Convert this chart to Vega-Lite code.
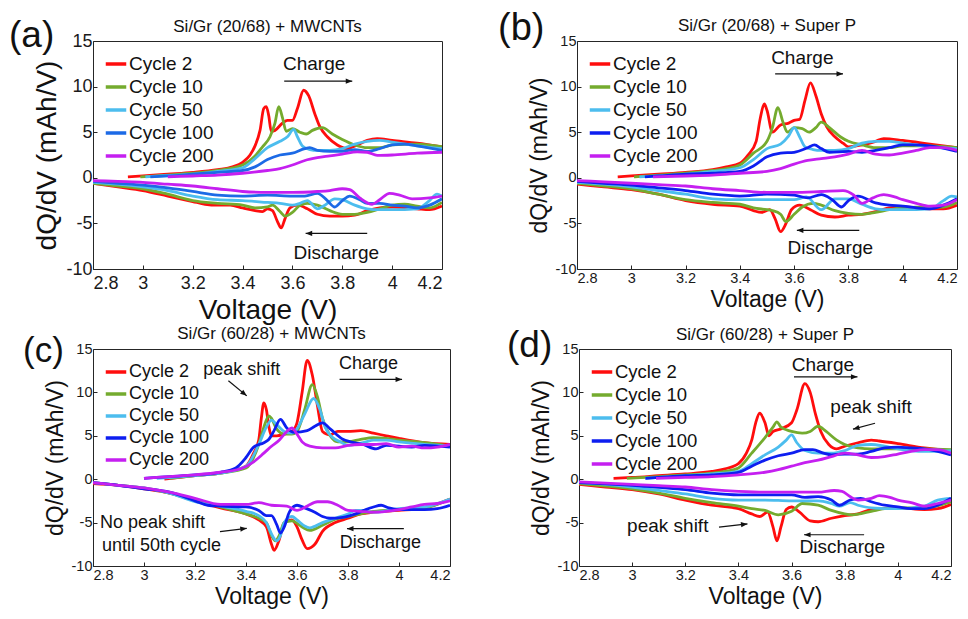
{
"$schema":"https://vega.github.io/schema/vega-lite/v6.json",
"background":"white",
"padding":{"left":8,"top":9,"right":2,"bottom":2},
"config":{
 "font":"Liberation Sans",
 "view":{"stroke":"#262626","strokeWidth":1},
 "axis":{"grid":false,"domain":false,"ticks":true,"tickSize":-4,"tickColor":"#262626","tickWidth":1,"labelColor":"#1a1a1a","titleColor":"#111","titleFontWeight":"normal","labelFontSize":14.5,"titleFontSize":23,"labelPadding":5},
 "axisX":{"labelPadding":6},
 "legend":{"orient":"top-left","offset":11,"padding":0,"labelFontSize":19,"labelColor":"#111","symbolType":"stroke","symbolStrokeWidth":3.5,"symbolSize":420,"rowPadding":1,"labelOffset":1,"labelLimit":200},
 "text":{"color":"#111"}
},
"datasets":{
"pa":[
{"cycle":2,"dir":"ch","v":2.94,"q":0.1},{"cycle":2,"dir":"ch","v":3.0,"q":0.2},{"cycle":2,"dir":"ch","v":3.1,"q":0.4},{"cycle":2,"dir":"ch","v":3.2,"q":0.6},{"cycle":2,"dir":"ch","v":3.3,"q":0.9},{"cycle":2,"dir":"ch","v":3.36,"q":1.2},{"cycle":2,"dir":"ch","v":3.4,"q":1.7},{"cycle":2,"dir":"ch","v":3.43,"q":2.5},{"cycle":2,"dir":"ch","v":3.45,"q":3.5},{"cycle":2,"dir":"ch","v":3.47,"q":5.2},{"cycle":2,"dir":"ch","v":3.485,"q":7.6},{"cycle":2,"dir":"ch","v":3.495,"q":7.8},{"cycle":2,"dir":"ch","v":3.505,"q":6.8},{"cycle":2,"dir":"ch","v":3.515,"q":5.1},{"cycle":2,"dir":"ch","v":3.53,"q":5.2},{"cycle":2,"dir":"ch","v":3.56,"q":6.0},{"cycle":2,"dir":"ch","v":3.58,"q":6.3},{"cycle":2,"dir":"ch","v":3.6,"q":6.3},{"cycle":2,"dir":"ch","v":3.62,"q":7.6},{"cycle":2,"dir":"ch","v":3.645,"q":9.6},{"cycle":2,"dir":"ch","v":3.665,"q":9.0},{"cycle":2,"dir":"ch","v":3.69,"q":7.0},{"cycle":2,"dir":"ch","v":3.71,"q":5.6},{"cycle":2,"dir":"ch","v":3.74,"q":4.5},{"cycle":2,"dir":"ch","v":3.78,"q":3.6},{"cycle":2,"dir":"ch","v":3.82,"q":3.2},{"cycle":2,"dir":"ch","v":3.86,"q":3.6},{"cycle":2,"dir":"ch","v":3.9,"q":4.1},{"cycle":2,"dir":"ch","v":3.94,"q":4.3},{"cycle":2,"dir":"ch","v":4.0,"q":4.1},{"cycle":2,"dir":"ch","v":4.1,"q":3.8},{"cycle":2,"dir":"ch","v":4.2,"q":3.4},
{"cycle":10,"dir":"ch","v":2.99,"q":0.1},{"cycle":10,"dir":"ch","v":3.1,"q":0.3},{"cycle":10,"dir":"ch","v":3.2,"q":0.5},{"cycle":10,"dir":"ch","v":3.3,"q":0.8},{"cycle":10,"dir":"ch","v":3.4,"q":1.4},{"cycle":10,"dir":"ch","v":3.45,"q":2.4},{"cycle":10,"dir":"ch","v":3.48,"q":3.4},{"cycle":10,"dir":"ch","v":3.51,"q":4.5},{"cycle":10,"dir":"ch","v":3.53,"q":6.0},{"cycle":10,"dir":"ch","v":3.545,"q":7.8},{"cycle":10,"dir":"ch","v":3.56,"q":6.6},{"cycle":10,"dir":"ch","v":3.575,"q":5.1},{"cycle":10,"dir":"ch","v":3.6,"q":5.4},{"cycle":10,"dir":"ch","v":3.63,"q":5.0},{"cycle":10,"dir":"ch","v":3.655,"q":4.8},{"cycle":10,"dir":"ch","v":3.68,"q":5.2},{"cycle":10,"dir":"ch","v":3.72,"q":5.5},{"cycle":10,"dir":"ch","v":3.76,"q":4.8},{"cycle":10,"dir":"ch","v":3.8,"q":4.2},{"cycle":10,"dir":"ch","v":3.85,"q":3.6},{"cycle":10,"dir":"ch","v":3.9,"q":3.3},{"cycle":10,"dir":"ch","v":3.95,"q":3.3},{"cycle":10,"dir":"ch","v":4.0,"q":3.6},{"cycle":10,"dir":"ch","v":4.1,"q":3.7},{"cycle":10,"dir":"ch","v":4.2,"q":3.4},
{"cycle":50,"dir":"ch","v":3.01,"q":0.1},{"cycle":50,"dir":"ch","v":3.1,"q":0.25},{"cycle":50,"dir":"ch","v":3.2,"q":0.4},{"cycle":50,"dir":"ch","v":3.3,"q":0.7},{"cycle":50,"dir":"ch","v":3.4,"q":1.1},{"cycle":50,"dir":"ch","v":3.45,"q":2.1},{"cycle":50,"dir":"ch","v":3.5,"q":3.3},{"cycle":50,"dir":"ch","v":3.55,"q":4.0},{"cycle":50,"dir":"ch","v":3.58,"q":4.5},{"cycle":50,"dir":"ch","v":3.605,"q":5.3},{"cycle":50,"dir":"ch","v":3.62,"q":4.5},{"cycle":50,"dir":"ch","v":3.64,"q":3.5},{"cycle":50,"dir":"ch","v":3.67,"q":3.1},{"cycle":50,"dir":"ch","v":3.7,"q":3.0},{"cycle":50,"dir":"ch","v":3.75,"q":3.0},{"cycle":50,"dir":"ch","v":3.8,"q":3.2},{"cycle":50,"dir":"ch","v":3.85,"q":3.7},{"cycle":50,"dir":"ch","v":3.9,"q":4.0},{"cycle":50,"dir":"ch","v":3.95,"q":4.1},{"cycle":50,"dir":"ch","v":4.0,"q":3.9},{"cycle":50,"dir":"ch","v":4.1,"q":3.5},{"cycle":50,"dir":"ch","v":4.2,"q":3.2},
{"cycle":100,"dir":"ch","v":3.03,"q":0.1},{"cycle":100,"dir":"ch","v":3.1,"q":0.2},{"cycle":100,"dir":"ch","v":3.2,"q":0.4},{"cycle":100,"dir":"ch","v":3.3,"q":0.6},{"cycle":100,"dir":"ch","v":3.4,"q":0.8},{"cycle":100,"dir":"ch","v":3.45,"q":1.2},{"cycle":100,"dir":"ch","v":3.5,"q":2.0},{"cycle":100,"dir":"ch","v":3.55,"q":2.5},{"cycle":100,"dir":"ch","v":3.6,"q":2.7},{"cycle":100,"dir":"ch","v":3.65,"q":3.2},{"cycle":100,"dir":"ch","v":3.67,"q":3.3},{"cycle":100,"dir":"ch","v":3.7,"q":3.0},{"cycle":100,"dir":"ch","v":3.75,"q":2.9},{"cycle":100,"dir":"ch","v":3.8,"q":2.9},{"cycle":100,"dir":"ch","v":3.85,"q":3.1},{"cycle":100,"dir":"ch","v":3.9,"q":2.9},{"cycle":100,"dir":"ch","v":3.95,"q":3.2},{"cycle":100,"dir":"ch","v":4.0,"q":3.6},{"cycle":100,"dir":"ch","v":4.05,"q":3.7},{"cycle":100,"dir":"ch","v":4.1,"q":3.5},{"cycle":100,"dir":"ch","v":4.2,"q":3.0},
{"cycle":200,"dir":"ch","v":3.1,"q":0.1},{"cycle":200,"dir":"ch","v":3.2,"q":0.2},{"cycle":200,"dir":"ch","v":3.3,"q":0.3},{"cycle":200,"dir":"ch","v":3.4,"q":0.5},{"cycle":200,"dir":"ch","v":3.5,"q":0.8},{"cycle":200,"dir":"ch","v":3.55,"q":1.0},{"cycle":200,"dir":"ch","v":3.6,"q":1.4},{"cycle":200,"dir":"ch","v":3.65,"q":1.9},{"cycle":200,"dir":"ch","v":3.7,"q":2.2},{"cycle":200,"dir":"ch","v":3.75,"q":2.4},{"cycle":200,"dir":"ch","v":3.8,"q":2.6},{"cycle":200,"dir":"ch","v":3.86,"q":2.85},{"cycle":200,"dir":"ch","v":3.9,"q":2.8},{"cycle":200,"dir":"ch","v":3.94,"q":2.45},{"cycle":200,"dir":"ch","v":4.0,"q":2.5},{"cycle":200,"dir":"ch","v":4.1,"q":2.7},{"cycle":200,"dir":"ch","v":4.2,"q":2.8},
{"cycle":2,"dir":"dis","v":2.8,"q":-0.6},{"cycle":2,"dir":"dis","v":2.9,"q":-1.0},{"cycle":2,"dir":"dis","v":3.0,"q":-1.4},{"cycle":2,"dir":"dis","v":3.1,"q":-2.0},{"cycle":2,"dir":"dis","v":3.2,"q":-2.6},{"cycle":2,"dir":"dis","v":3.25,"q":-2.9},{"cycle":2,"dir":"dis","v":3.3,"q":-3.0},{"cycle":2,"dir":"dis","v":3.35,"q":-3.0},{"cycle":2,"dir":"dis","v":3.4,"q":-3.3},{"cycle":2,"dir":"dis","v":3.45,"q":-3.6},{"cycle":2,"dir":"dis","v":3.48,"q":-3.7},{"cycle":2,"dir":"dis","v":3.5,"q":-3.4},{"cycle":2,"dir":"dis","v":3.52,"q":-3.6},{"cycle":2,"dir":"dis","v":3.54,"q":-4.8},{"cycle":2,"dir":"dis","v":3.555,"q":-5.5},{"cycle":2,"dir":"dis","v":3.57,"q":-4.5},{"cycle":2,"dir":"dis","v":3.59,"q":-3.3},{"cycle":2,"dir":"dis","v":3.62,"q":-3.0},{"cycle":2,"dir":"dis","v":3.66,"q":-3.4},{"cycle":2,"dir":"dis","v":3.7,"q":-4.0},{"cycle":2,"dir":"dis","v":3.75,"q":-4.2},{"cycle":2,"dir":"dis","v":3.8,"q":-4.2},{"cycle":2,"dir":"dis","v":3.85,"q":-4.1},{"cycle":2,"dir":"dis","v":3.9,"q":-3.6},{"cycle":2,"dir":"dis","v":3.95,"q":-3.3},{"cycle":2,"dir":"dis","v":4.0,"q":-3.2},{"cycle":2,"dir":"dis","v":4.1,"q":-3.4},{"cycle":2,"dir":"dis","v":4.15,"q":-3.5},{"cycle":2,"dir":"dis","v":4.2,"q":-3.1},
{"cycle":10,"dir":"dis","v":2.8,"q":-0.6},{"cycle":10,"dir":"dis","v":2.9,"q":-0.9},{"cycle":10,"dir":"dis","v":3.0,"q":-1.2},{"cycle":10,"dir":"dis","v":3.1,"q":-1.8},{"cycle":10,"dir":"dis","v":3.2,"q":-2.5},{"cycle":10,"dir":"dis","v":3.3,"q":-2.8},{"cycle":10,"dir":"dis","v":3.4,"q":-3.0},{"cycle":10,"dir":"dis","v":3.45,"q":-3.3},{"cycle":10,"dir":"dis","v":3.5,"q":-3.2},{"cycle":10,"dir":"dis","v":3.52,"q":-3.0},{"cycle":10,"dir":"dis","v":3.55,"q":-3.7},{"cycle":10,"dir":"dis","v":3.57,"q":-4.2},{"cycle":10,"dir":"dis","v":3.6,"q":-3.8},{"cycle":10,"dir":"dis","v":3.63,"q":-3.0},{"cycle":10,"dir":"dis","v":3.66,"q":-2.8},{"cycle":10,"dir":"dis","v":3.7,"q":-3.0},{"cycle":10,"dir":"dis","v":3.75,"q":-3.6},{"cycle":10,"dir":"dis","v":3.8,"q":-4.0},{"cycle":10,"dir":"dis","v":3.85,"q":-4.0},{"cycle":10,"dir":"dis","v":3.9,"q":-3.8},{"cycle":10,"dir":"dis","v":3.95,"q":-3.4},{"cycle":10,"dir":"dis","v":4.0,"q":-3.0},{"cycle":10,"dir":"dis","v":4.05,"q":-2.9},{"cycle":10,"dir":"dis","v":4.1,"q":-3.1},{"cycle":10,"dir":"dis","v":4.15,"q":-3.3},{"cycle":10,"dir":"dis","v":4.2,"q":-2.7},
{"cycle":50,"dir":"dis","v":2.8,"q":-0.5},{"cycle":50,"dir":"dis","v":2.9,"q":-0.7},{"cycle":50,"dir":"dis","v":3.0,"q":-1.0},{"cycle":50,"dir":"dis","v":3.1,"q":-1.4},{"cycle":50,"dir":"dis","v":3.2,"q":-2.0},{"cycle":50,"dir":"dis","v":3.3,"q":-2.4},{"cycle":50,"dir":"dis","v":3.4,"q":-2.5},{"cycle":50,"dir":"dis","v":3.5,"q":-2.7},{"cycle":50,"dir":"dis","v":3.55,"q":-2.8},{"cycle":50,"dir":"dis","v":3.6,"q":-3.0},{"cycle":50,"dir":"dis","v":3.63,"q":-2.8},{"cycle":50,"dir":"dis","v":3.66,"q":-2.5},{"cycle":50,"dir":"dis","v":3.7,"q":-3.4},{"cycle":50,"dir":"dis","v":3.73,"q":-3.0},{"cycle":50,"dir":"dis","v":3.77,"q":-2.3},{"cycle":50,"dir":"dis","v":3.8,"q":-2.4},{"cycle":50,"dir":"dis","v":3.85,"q":-3.0},{"cycle":50,"dir":"dis","v":3.9,"q":-3.4},{"cycle":50,"dir":"dis","v":3.95,"q":-3.5},{"cycle":50,"dir":"dis","v":4.0,"q":-3.5},{"cycle":50,"dir":"dis","v":4.1,"q":-3.4},{"cycle":50,"dir":"dis","v":4.15,"q":-2.5},{"cycle":50,"dir":"dis","v":4.18,"q":-1.8},{"cycle":50,"dir":"dis","v":4.2,"q":-2.0},
{"cycle":100,"dir":"dis","v":2.8,"q":-0.4},{"cycle":100,"dir":"dis","v":2.9,"q":-0.6},{"cycle":100,"dir":"dis","v":3.0,"q":-0.8},{"cycle":100,"dir":"dis","v":3.1,"q":-1.1},{"cycle":100,"dir":"dis","v":3.2,"q":-1.5},{"cycle":100,"dir":"dis","v":3.3,"q":-1.9},{"cycle":100,"dir":"dis","v":3.4,"q":-2.0},{"cycle":100,"dir":"dis","v":3.5,"q":-1.9},{"cycle":100,"dir":"dis","v":3.6,"q":-2.0},{"cycle":100,"dir":"dis","v":3.65,"q":-2.0},{"cycle":100,"dir":"dis","v":3.7,"q":-1.7},{"cycle":100,"dir":"dis","v":3.74,"q":-2.5},{"cycle":100,"dir":"dis","v":3.77,"q":-3.2},{"cycle":100,"dir":"dis","v":3.8,"q":-2.5},{"cycle":100,"dir":"dis","v":3.83,"q":-2.0},{"cycle":100,"dir":"dis","v":3.87,"q":-2.4},{"cycle":100,"dir":"dis","v":3.9,"q":-2.8},{"cycle":100,"dir":"dis","v":3.95,"q":-2.8},{"cycle":100,"dir":"dis","v":4.0,"q":-3.0},{"cycle":100,"dir":"dis","v":4.05,"q":-3.1},{"cycle":100,"dir":"dis","v":4.1,"q":-3.3},{"cycle":100,"dir":"dis","v":4.15,"q":-3.0},{"cycle":100,"dir":"dis","v":4.2,"q":-2.3},
{"cycle":200,"dir":"dis","v":2.8,"q":-0.3},{"cycle":200,"dir":"dis","v":2.9,"q":-0.4},{"cycle":200,"dir":"dis","v":3.0,"q":-0.5},{"cycle":200,"dir":"dis","v":3.1,"q":-0.7},{"cycle":200,"dir":"dis","v":3.2,"q":-0.9},{"cycle":200,"dir":"dis","v":3.3,"q":-1.2},{"cycle":200,"dir":"dis","v":3.4,"q":-1.5},{"cycle":200,"dir":"dis","v":3.5,"q":-1.6},{"cycle":200,"dir":"dis","v":3.6,"q":-1.6},{"cycle":200,"dir":"dis","v":3.7,"q":-1.5},{"cycle":200,"dir":"dis","v":3.75,"q":-1.4},{"cycle":200,"dir":"dis","v":3.8,"q":-1.2},{"cycle":200,"dir":"dis","v":3.83,"q":-1.3},{"cycle":200,"dir":"dis","v":3.87,"q":-2.2},{"cycle":200,"dir":"dis","v":3.92,"q":-2.9},{"cycle":200,"dir":"dis","v":3.95,"q":-2.4},{"cycle":200,"dir":"dis","v":3.99,"q":-1.7},{"cycle":200,"dir":"dis","v":4.03,"q":-1.9},{"cycle":200,"dir":"dis","v":4.08,"q":-2.3},{"cycle":200,"dir":"dis","v":4.15,"q":-2.2},{"cycle":200,"dir":"dis","v":4.2,"q":-2.0}
],
"pb":[
{"cycle":2,"dir":"ch","v":2.95,"q":0.1},{"cycle":2,"dir":"ch","v":3.0,"q":0.2},{"cycle":2,"dir":"ch","v":3.1,"q":0.4},{"cycle":2,"dir":"ch","v":3.2,"q":0.6},{"cycle":2,"dir":"ch","v":3.3,"q":0.9},{"cycle":2,"dir":"ch","v":3.35,"q":1.2},{"cycle":2,"dir":"ch","v":3.4,"q":1.6},{"cycle":2,"dir":"ch","v":3.43,"q":2.5},{"cycle":2,"dir":"ch","v":3.46,"q":4.0},{"cycle":2,"dir":"ch","v":3.475,"q":6.5},{"cycle":2,"dir":"ch","v":3.49,"q":8.1},{"cycle":2,"dir":"ch","v":3.5,"q":7.4},{"cycle":2,"dir":"ch","v":3.52,"q":5.0},{"cycle":2,"dir":"ch","v":3.55,"q":5.8},{"cycle":2,"dir":"ch","v":3.58,"q":6.0},{"cycle":2,"dir":"ch","v":3.6,"q":6.3},{"cycle":2,"dir":"ch","v":3.62,"q":6.4},{"cycle":2,"dir":"ch","v":3.64,"q":8.5},{"cycle":2,"dir":"ch","v":3.66,"q":10.4},{"cycle":2,"dir":"ch","v":3.68,"q":9.0},{"cycle":2,"dir":"ch","v":3.7,"q":7.0},{"cycle":2,"dir":"ch","v":3.72,"q":5.6},{"cycle":2,"dir":"ch","v":3.75,"q":4.5},{"cycle":2,"dir":"ch","v":3.78,"q":3.8},{"cycle":2,"dir":"ch","v":3.8,"q":3.4},{"cycle":2,"dir":"ch","v":3.85,"q":3.6},{"cycle":2,"dir":"ch","v":3.9,"q":4.0},{"cycle":2,"dir":"ch","v":3.93,"q":4.3},{"cycle":2,"dir":"ch","v":4.0,"q":4.1},{"cycle":2,"dir":"ch","v":4.1,"q":3.7},{"cycle":2,"dir":"ch","v":4.2,"q":3.3},
{"cycle":10,"dir":"ch","v":3.01,"q":0.1},{"cycle":10,"dir":"ch","v":3.1,"q":0.3},{"cycle":10,"dir":"ch","v":3.2,"q":0.5},{"cycle":10,"dir":"ch","v":3.3,"q":0.8},{"cycle":10,"dir":"ch","v":3.35,"q":1.0},{"cycle":10,"dir":"ch","v":3.4,"q":1.4},{"cycle":10,"dir":"ch","v":3.45,"q":2.7},{"cycle":10,"dir":"ch","v":3.5,"q":4.0},{"cycle":10,"dir":"ch","v":3.52,"q":5.5},{"cycle":10,"dir":"ch","v":3.54,"q":7.7},{"cycle":10,"dir":"ch","v":3.56,"q":6.0},{"cycle":10,"dir":"ch","v":3.575,"q":5.0},{"cycle":10,"dir":"ch","v":3.6,"q":5.5},{"cycle":10,"dir":"ch","v":3.63,"q":5.4},{"cycle":10,"dir":"ch","v":3.655,"q":5.0},{"cycle":10,"dir":"ch","v":3.68,"q":5.5},{"cycle":10,"dir":"ch","v":3.7,"q":6.1},{"cycle":10,"dir":"ch","v":3.73,"q":5.5},{"cycle":10,"dir":"ch","v":3.77,"q":4.5},{"cycle":10,"dir":"ch","v":3.8,"q":4.0},{"cycle":10,"dir":"ch","v":3.85,"q":3.6},{"cycle":10,"dir":"ch","v":3.9,"q":3.3},{"cycle":10,"dir":"ch","v":3.95,"q":3.3},{"cycle":10,"dir":"ch","v":4.0,"q":3.5},{"cycle":10,"dir":"ch","v":4.1,"q":3.5},{"cycle":10,"dir":"ch","v":4.2,"q":3.3},
{"cycle":50,"dir":"ch","v":3.03,"q":0.1},{"cycle":50,"dir":"ch","v":3.1,"q":0.2},{"cycle":50,"dir":"ch","v":3.2,"q":0.4},{"cycle":50,"dir":"ch","v":3.3,"q":0.7},{"cycle":50,"dir":"ch","v":3.4,"q":1.1},{"cycle":50,"dir":"ch","v":3.45,"q":2.0},{"cycle":50,"dir":"ch","v":3.5,"q":3.2},{"cycle":50,"dir":"ch","v":3.55,"q":3.7},{"cycle":50,"dir":"ch","v":3.58,"q":4.6},{"cycle":50,"dir":"ch","v":3.6,"q":5.5},{"cycle":50,"dir":"ch","v":3.62,"q":4.5},{"cycle":50,"dir":"ch","v":3.64,"q":3.4},{"cycle":50,"dir":"ch","v":3.67,"q":3.1},{"cycle":50,"dir":"ch","v":3.7,"q":3.0},{"cycle":50,"dir":"ch","v":3.75,"q":3.0},{"cycle":50,"dir":"ch","v":3.8,"q":3.2},{"cycle":50,"dir":"ch","v":3.85,"q":3.8},{"cycle":50,"dir":"ch","v":3.9,"q":4.0},{"cycle":50,"dir":"ch","v":3.95,"q":4.0},{"cycle":50,"dir":"ch","v":4.0,"q":3.8},{"cycle":50,"dir":"ch","v":4.1,"q":3.4},{"cycle":50,"dir":"ch","v":4.2,"q":3.2},
{"cycle":100,"dir":"ch","v":3.05,"q":0.1},{"cycle":100,"dir":"ch","v":3.1,"q":0.2},{"cycle":100,"dir":"ch","v":3.2,"q":0.4},{"cycle":100,"dir":"ch","v":3.3,"q":0.5},{"cycle":100,"dir":"ch","v":3.4,"q":0.7},{"cycle":100,"dir":"ch","v":3.45,"q":1.3},{"cycle":100,"dir":"ch","v":3.5,"q":2.3},{"cycle":100,"dir":"ch","v":3.55,"q":2.7},{"cycle":100,"dir":"ch","v":3.6,"q":2.8},{"cycle":100,"dir":"ch","v":3.65,"q":3.3},{"cycle":100,"dir":"ch","v":3.675,"q":3.6},{"cycle":100,"dir":"ch","v":3.7,"q":3.2},{"cycle":100,"dir":"ch","v":3.73,"q":2.8},{"cycle":100,"dir":"ch","v":3.8,"q":2.9},{"cycle":100,"dir":"ch","v":3.85,"q":2.8},{"cycle":100,"dir":"ch","v":3.9,"q":3.0},{"cycle":100,"dir":"ch","v":3.95,"q":3.3},{"cycle":100,"dir":"ch","v":4.0,"q":3.6},{"cycle":100,"dir":"ch","v":4.05,"q":3.6},{"cycle":100,"dir":"ch","v":4.1,"q":3.5},{"cycle":100,"dir":"ch","v":4.2,"q":2.9},
{"cycle":200,"dir":"ch","v":3.08,"q":0.1},{"cycle":200,"dir":"ch","v":3.2,"q":0.2},{"cycle":200,"dir":"ch","v":3.3,"q":0.3},{"cycle":200,"dir":"ch","v":3.4,"q":0.5},{"cycle":200,"dir":"ch","v":3.5,"q":0.7},{"cycle":200,"dir":"ch","v":3.55,"q":1.0},{"cycle":200,"dir":"ch","v":3.6,"q":1.5},{"cycle":200,"dir":"ch","v":3.65,"q":1.9},{"cycle":200,"dir":"ch","v":3.7,"q":2.1},{"cycle":200,"dir":"ch","v":3.75,"q":2.3},{"cycle":200,"dir":"ch","v":3.8,"q":2.6},{"cycle":200,"dir":"ch","v":3.85,"q":3.0},{"cycle":200,"dir":"ch","v":3.9,"q":2.6},{"cycle":200,"dir":"ch","v":3.95,"q":2.5},{"cycle":200,"dir":"ch","v":4.0,"q":2.7},{"cycle":200,"dir":"ch","v":4.05,"q":3.0},{"cycle":200,"dir":"ch","v":4.1,"q":3.3},{"cycle":200,"dir":"ch","v":4.15,"q":3.3},{"cycle":200,"dir":"ch","v":4.2,"q":3.0},
{"cycle":2,"dir":"dis","v":2.8,"q":-0.7},{"cycle":2,"dir":"dis","v":2.9,"q":-1.0},{"cycle":2,"dir":"dis","v":3.0,"q":-1.3},{"cycle":2,"dir":"dis","v":3.1,"q":-1.8},{"cycle":2,"dir":"dis","v":3.2,"q":-2.5},{"cycle":2,"dir":"dis","v":3.3,"q":-2.9},{"cycle":2,"dir":"dis","v":3.4,"q":-3.1},{"cycle":2,"dir":"dis","v":3.45,"q":-3.6},{"cycle":2,"dir":"dis","v":3.48,"q":-3.8},{"cycle":2,"dir":"dis","v":3.51,"q":-3.5},{"cycle":2,"dir":"dis","v":3.53,"q":-4.5},{"cycle":2,"dir":"dis","v":3.55,"q":-5.9},{"cycle":2,"dir":"dis","v":3.57,"q":-5.0},{"cycle":2,"dir":"dis","v":3.59,"q":-3.5},{"cycle":2,"dir":"dis","v":3.62,"q":-3.0},{"cycle":2,"dir":"dis","v":3.66,"q":-3.5},{"cycle":2,"dir":"dis","v":3.7,"q":-4.1},{"cycle":2,"dir":"dis","v":3.75,"q":-4.3},{"cycle":2,"dir":"dis","v":3.8,"q":-4.1},{"cycle":2,"dir":"dis","v":3.85,"q":-4.0},{"cycle":2,"dir":"dis","v":3.9,"q":-3.7},{"cycle":2,"dir":"dis","v":3.95,"q":-3.3},{"cycle":2,"dir":"dis","v":4.0,"q":-3.2},{"cycle":2,"dir":"dis","v":4.1,"q":-3.4},{"cycle":2,"dir":"dis","v":4.15,"q":-3.4},{"cycle":2,"dir":"dis","v":4.2,"q":-3.0},
{"cycle":10,"dir":"dis","v":2.8,"q":-0.6},{"cycle":10,"dir":"dis","v":2.9,"q":-0.9},{"cycle":10,"dir":"dis","v":3.0,"q":-1.2},{"cycle":10,"dir":"dis","v":3.1,"q":-1.8},{"cycle":10,"dir":"dis","v":3.2,"q":-2.4},{"cycle":10,"dir":"dis","v":3.3,"q":-2.7},{"cycle":10,"dir":"dis","v":3.4,"q":-2.9},{"cycle":10,"dir":"dis","v":3.45,"q":-3.3},{"cycle":10,"dir":"dis","v":3.5,"q":-3.5},{"cycle":10,"dir":"dis","v":3.52,"q":-3.6},{"cycle":10,"dir":"dis","v":3.55,"q":-4.0},{"cycle":10,"dir":"dis","v":3.57,"q":-4.8},{"cycle":10,"dir":"dis","v":3.6,"q":-4.0},{"cycle":10,"dir":"dis","v":3.63,"q":-3.2},{"cycle":10,"dir":"dis","v":3.67,"q":-2.8},{"cycle":10,"dir":"dis","v":3.7,"q":-3.0},{"cycle":10,"dir":"dis","v":3.75,"q":-3.6},{"cycle":10,"dir":"dis","v":3.8,"q":-3.9},{"cycle":10,"dir":"dis","v":3.85,"q":-4.0},{"cycle":10,"dir":"dis","v":3.9,"q":-3.8},{"cycle":10,"dir":"dis","v":3.95,"q":-3.5},{"cycle":10,"dir":"dis","v":4.0,"q":-3.3},{"cycle":10,"dir":"dis","v":4.1,"q":-3.2},{"cycle":10,"dir":"dis","v":4.15,"q":-3.2},{"cycle":10,"dir":"dis","v":4.2,"q":-2.7},
{"cycle":50,"dir":"dis","v":2.8,"q":-0.5},{"cycle":50,"dir":"dis","v":2.9,"q":-0.7},{"cycle":50,"dir":"dis","v":3.0,"q":-1.0},{"cycle":50,"dir":"dis","v":3.1,"q":-1.4},{"cycle":50,"dir":"dis","v":3.2,"q":-1.8},{"cycle":50,"dir":"dis","v":3.3,"q":-2.3},{"cycle":50,"dir":"dis","v":3.4,"q":-2.4},{"cycle":50,"dir":"dis","v":3.5,"q":-2.4},{"cycle":50,"dir":"dis","v":3.6,"q":-2.4},{"cycle":50,"dir":"dis","v":3.645,"q":-2.1},{"cycle":50,"dir":"dis","v":3.7,"q":-3.5},{"cycle":50,"dir":"dis","v":3.75,"q":-2.3},{"cycle":50,"dir":"dis","v":3.8,"q":-2.3},{"cycle":50,"dir":"dis","v":3.85,"q":-2.9},{"cycle":50,"dir":"dis","v":3.9,"q":-3.4},{"cycle":50,"dir":"dis","v":3.95,"q":-3.5},{"cycle":50,"dir":"dis","v":4.0,"q":-3.5},{"cycle":50,"dir":"dis","v":4.1,"q":-3.4},{"cycle":50,"dir":"dis","v":4.15,"q":-2.5},{"cycle":50,"dir":"dis","v":4.18,"q":-2.0},{"cycle":50,"dir":"dis","v":4.2,"q":-2.1},
{"cycle":100,"dir":"dis","v":2.8,"q":-0.4},{"cycle":100,"dir":"dis","v":2.9,"q":-0.6},{"cycle":100,"dir":"dis","v":3.0,"q":-0.8},{"cycle":100,"dir":"dis","v":3.1,"q":-1.1},{"cycle":100,"dir":"dis","v":3.2,"q":-1.4},{"cycle":100,"dir":"dis","v":3.3,"q":-1.8},{"cycle":100,"dir":"dis","v":3.4,"q":-2.0},{"cycle":100,"dir":"dis","v":3.5,"q":-1.8},{"cycle":100,"dir":"dis","v":3.6,"q":-1.9},{"cycle":100,"dir":"dis","v":3.65,"q":-2.2},{"cycle":100,"dir":"dis","v":3.7,"q":-1.85},{"cycle":100,"dir":"dis","v":3.74,"q":-2.4},{"cycle":100,"dir":"dis","v":3.775,"q":-3.2},{"cycle":100,"dir":"dis","v":3.8,"q":-2.5},{"cycle":100,"dir":"dis","v":3.835,"q":-2.0},{"cycle":100,"dir":"dis","v":3.9,"q":-2.75},{"cycle":100,"dir":"dis","v":3.95,"q":-3.0},{"cycle":100,"dir":"dis","v":4.0,"q":-3.1},{"cycle":100,"dir":"dis","v":4.05,"q":-3.3},{"cycle":100,"dir":"dis","v":4.1,"q":-3.4},{"cycle":100,"dir":"dis","v":4.15,"q":-3.0},{"cycle":100,"dir":"dis","v":4.2,"q":-2.3},
{"cycle":200,"dir":"dis","v":2.8,"q":-0.3},{"cycle":200,"dir":"dis","v":2.9,"q":-0.45},{"cycle":200,"dir":"dis","v":3.0,"q":-0.6},{"cycle":200,"dir":"dis","v":3.1,"q":-0.75},{"cycle":200,"dir":"dis","v":3.2,"q":-0.9},{"cycle":200,"dir":"dis","v":3.3,"q":-1.2},{"cycle":200,"dir":"dis","v":3.4,"q":-1.4},{"cycle":200,"dir":"dis","v":3.5,"q":-1.6},{"cycle":200,"dir":"dis","v":3.6,"q":-1.6},{"cycle":200,"dir":"dis","v":3.7,"q":-1.5},{"cycle":200,"dir":"dis","v":3.78,"q":-1.4},{"cycle":200,"dir":"dis","v":3.82,"q":-1.9},{"cycle":200,"dir":"dis","v":3.85,"q":-2.8},{"cycle":200,"dir":"dis","v":3.89,"q":-2.2},{"cycle":200,"dir":"dis","v":3.93,"q":-1.85},{"cycle":200,"dir":"dis","v":3.97,"q":-2.1},{"cycle":200,"dir":"dis","v":4.0,"q":-2.4},{"cycle":200,"dir":"dis","v":4.05,"q":-2.8},{"cycle":200,"dir":"dis","v":4.1,"q":-3.1},{"cycle":200,"dir":"dis","v":4.15,"q":-3.0},{"cycle":200,"dir":"dis","v":4.2,"q":-2.4}
],
"pc":[
{"cycle":2,"dir":"ch","v":3.08,"q":0.0},{"cycle":2,"dir":"ch","v":3.2,"q":0.4},{"cycle":2,"dir":"ch","v":3.3,"q":0.7},{"cycle":2,"dir":"ch","v":3.35,"q":1.0},{"cycle":2,"dir":"ch","v":3.4,"q":1.5},{"cycle":2,"dir":"ch","v":3.43,"q":3.0},{"cycle":2,"dir":"ch","v":3.45,"q":4.5},{"cycle":2,"dir":"ch","v":3.46,"q":7.0},{"cycle":2,"dir":"ch","v":3.47,"q":8.8},{"cycle":2,"dir":"ch","v":3.48,"q":8.0},{"cycle":2,"dir":"ch","v":3.49,"q":6.0},{"cycle":2,"dir":"ch","v":3.5,"q":5.0},{"cycle":2,"dir":"ch","v":3.52,"q":5.0},{"cycle":2,"dir":"ch","v":3.55,"q":5.2},{"cycle":2,"dir":"ch","v":3.58,"q":5.5},{"cycle":2,"dir":"ch","v":3.6,"q":6.5},{"cycle":2,"dir":"ch","v":3.62,"q":10.0},{"cycle":2,"dir":"ch","v":3.64,"q":13.7},{"cycle":2,"dir":"ch","v":3.66,"q":12.0},{"cycle":2,"dir":"ch","v":3.68,"q":8.5},{"cycle":2,"dir":"ch","v":3.7,"q":5.5},{"cycle":2,"dir":"ch","v":3.73,"q":5.1},{"cycle":2,"dir":"ch","v":3.76,"q":5.5},{"cycle":2,"dir":"ch","v":3.8,"q":5.5},{"cycle":2,"dir":"ch","v":3.85,"q":5.6},{"cycle":2,"dir":"ch","v":3.9,"q":5.3},{"cycle":2,"dir":"ch","v":3.95,"q":5.0},{"cycle":2,"dir":"ch","v":4.0,"q":4.7},{"cycle":2,"dir":"ch","v":4.1,"q":4.2},{"cycle":2,"dir":"ch","v":4.2,"q":4.0},
{"cycle":10,"dir":"ch","v":3.1,"q":0.1},{"cycle":10,"dir":"ch","v":3.2,"q":0.4},{"cycle":10,"dir":"ch","v":3.3,"q":0.7},{"cycle":10,"dir":"ch","v":3.4,"q":1.3},{"cycle":10,"dir":"ch","v":3.45,"q":4.0},{"cycle":10,"dir":"ch","v":3.47,"q":6.0},{"cycle":10,"dir":"ch","v":3.49,"q":7.3},{"cycle":10,"dir":"ch","v":3.5,"q":7.0},{"cycle":10,"dir":"ch","v":3.52,"q":5.8},{"cycle":10,"dir":"ch","v":3.55,"q":5.2},{"cycle":10,"dir":"ch","v":3.58,"q":5.2},{"cycle":10,"dir":"ch","v":3.6,"q":5.5},{"cycle":10,"dir":"ch","v":3.63,"q":8.0},{"cycle":10,"dir":"ch","v":3.66,"q":10.9},{"cycle":10,"dir":"ch","v":3.68,"q":9.5},{"cycle":10,"dir":"ch","v":3.7,"q":7.0},{"cycle":10,"dir":"ch","v":3.73,"q":5.0},{"cycle":10,"dir":"ch","v":3.76,"q":4.3},{"cycle":10,"dir":"ch","v":3.8,"q":4.3},{"cycle":10,"dir":"ch","v":3.85,"q":4.6},{"cycle":10,"dir":"ch","v":3.9,"q":4.8},{"cycle":10,"dir":"ch","v":3.95,"q":4.7},{"cycle":10,"dir":"ch","v":4.0,"q":4.5},{"cycle":10,"dir":"ch","v":4.1,"q":4.2},{"cycle":10,"dir":"ch","v":4.2,"q":3.8},
{"cycle":50,"dir":"ch","v":3.05,"q":0.1},{"cycle":50,"dir":"ch","v":3.2,"q":0.4},{"cycle":50,"dir":"ch","v":3.3,"q":0.7},{"cycle":50,"dir":"ch","v":3.4,"q":1.5},{"cycle":50,"dir":"ch","v":3.45,"q":4.0},{"cycle":50,"dir":"ch","v":3.48,"q":6.0},{"cycle":50,"dir":"ch","v":3.5,"q":6.8},{"cycle":50,"dir":"ch","v":3.52,"q":6.3},{"cycle":50,"dir":"ch","v":3.55,"q":5.5},{"cycle":50,"dir":"ch","v":3.58,"q":5.3},{"cycle":50,"dir":"ch","v":3.6,"q":5.8},{"cycle":50,"dir":"ch","v":3.63,"q":7.5},{"cycle":50,"dir":"ch","v":3.665,"q":9.3},{"cycle":50,"dir":"ch","v":3.69,"q":8.0},{"cycle":50,"dir":"ch","v":3.71,"q":6.0},{"cycle":50,"dir":"ch","v":3.74,"q":4.8},{"cycle":50,"dir":"ch","v":3.77,"q":4.3},{"cycle":50,"dir":"ch","v":3.8,"q":3.9},{"cycle":50,"dir":"ch","v":3.83,"q":4.0},{"cycle":50,"dir":"ch","v":3.87,"q":4.3},{"cycle":50,"dir":"ch","v":3.9,"q":4.5},{"cycle":50,"dir":"ch","v":3.95,"q":4.5},{"cycle":50,"dir":"ch","v":4.0,"q":4.3},{"cycle":50,"dir":"ch","v":4.1,"q":4.0},{"cycle":50,"dir":"ch","v":4.2,"q":3.8},
{"cycle":100,"dir":"ch","v":3.0,"q":0.1},{"cycle":100,"dir":"ch","v":3.1,"q":0.3},{"cycle":100,"dir":"ch","v":3.2,"q":0.5},{"cycle":100,"dir":"ch","v":3.3,"q":0.8},{"cycle":100,"dir":"ch","v":3.36,"q":1.3},{"cycle":100,"dir":"ch","v":3.4,"q":2.5},{"cycle":100,"dir":"ch","v":3.43,"q":3.7},{"cycle":100,"dir":"ch","v":3.47,"q":4.2},{"cycle":100,"dir":"ch","v":3.49,"q":4.6},{"cycle":100,"dir":"ch","v":3.51,"q":5.6},{"cycle":100,"dir":"ch","v":3.535,"q":6.9},{"cycle":100,"dir":"ch","v":3.56,"q":5.9},{"cycle":100,"dir":"ch","v":3.59,"q":5.4},{"cycle":100,"dir":"ch","v":3.64,"q":5.6},{"cycle":100,"dir":"ch","v":3.67,"q":6.1},{"cycle":100,"dir":"ch","v":3.7,"q":6.5},{"cycle":100,"dir":"ch","v":3.73,"q":5.8},{"cycle":100,"dir":"ch","v":3.78,"q":4.6},{"cycle":100,"dir":"ch","v":3.86,"q":4.0},{"cycle":100,"dir":"ch","v":3.91,"q":3.5},{"cycle":100,"dir":"ch","v":3.95,"q":3.9},{"cycle":100,"dir":"ch","v":4.05,"q":3.7},{"cycle":100,"dir":"ch","v":4.1,"q":3.9},{"cycle":100,"dir":"ch","v":4.2,"q":3.7},
{"cycle":200,"dir":"ch","v":3.0,"q":0.1},{"cycle":200,"dir":"ch","v":3.1,"q":0.3},{"cycle":200,"dir":"ch","v":3.2,"q":0.5},{"cycle":200,"dir":"ch","v":3.3,"q":0.8},{"cycle":200,"dir":"ch","v":3.38,"q":1.2},{"cycle":200,"dir":"ch","v":3.43,"q":2.0},{"cycle":200,"dir":"ch","v":3.47,"q":3.0},{"cycle":200,"dir":"ch","v":3.5,"q":3.8},{"cycle":200,"dir":"ch","v":3.53,"q":4.5},{"cycle":200,"dir":"ch","v":3.56,"q":5.5},{"cycle":200,"dir":"ch","v":3.58,"q":5.9},{"cycle":200,"dir":"ch","v":3.6,"q":5.2},{"cycle":200,"dir":"ch","v":3.62,"q":4.3},{"cycle":200,"dir":"ch","v":3.65,"q":3.8},{"cycle":200,"dir":"ch","v":3.7,"q":3.6},{"cycle":200,"dir":"ch","v":3.75,"q":3.6},{"cycle":200,"dir":"ch","v":3.8,"q":3.9},{"cycle":200,"dir":"ch","v":3.85,"q":4.0},{"cycle":200,"dir":"ch","v":3.9,"q":4.0},{"cycle":200,"dir":"ch","v":3.95,"q":4.1},{"cycle":200,"dir":"ch","v":4.0,"q":3.7},{"cycle":200,"dir":"ch","v":4.05,"q":3.8},{"cycle":200,"dir":"ch","v":4.1,"q":3.6},{"cycle":200,"dir":"ch","v":4.15,"q":3.7},{"cycle":200,"dir":"ch","v":4.2,"q":4.0},
{"cycle":2,"dir":"dis","v":2.8,"q":-0.5},{"cycle":2,"dir":"dis","v":2.9,"q":-0.7},{"cycle":2,"dir":"dis","v":3.0,"q":-1.1},{"cycle":2,"dir":"dis","v":3.1,"q":-1.6},{"cycle":2,"dir":"dis","v":3.2,"q":-2.5},{"cycle":2,"dir":"dis","v":3.3,"q":-3.3},{"cycle":2,"dir":"dis","v":3.4,"q":-4.0},{"cycle":2,"dir":"dis","v":3.45,"q":-4.7},{"cycle":2,"dir":"dis","v":3.48,"q":-5.5},{"cycle":2,"dir":"dis","v":3.5,"q":-7.5},{"cycle":2,"dir":"dis","v":3.51,"q":-8.2},{"cycle":2,"dir":"dis","v":3.53,"q":-7.0},{"cycle":2,"dir":"dis","v":3.55,"q":-5.0},{"cycle":2,"dir":"dis","v":3.58,"q":-4.7},{"cycle":2,"dir":"dis","v":3.6,"q":-5.5},{"cycle":2,"dir":"dis","v":3.62,"q":-7.0},{"cycle":2,"dir":"dis","v":3.64,"q":-8.0},{"cycle":2,"dir":"dis","v":3.67,"q":-7.5},{"cycle":2,"dir":"dis","v":3.7,"q":-6.0},{"cycle":2,"dir":"dis","v":3.75,"q":-5.0},{"cycle":2,"dir":"dis","v":3.8,"q":-4.5},{"cycle":2,"dir":"dis","v":3.85,"q":-4.0},{"cycle":2,"dir":"dis","v":3.9,"q":-3.8},{"cycle":2,"dir":"dis","v":4.0,"q":-3.6},{"cycle":2,"dir":"dis","v":4.1,"q":-3.3},{"cycle":2,"dir":"dis","v":4.2,"q":-2.3},
{"cycle":10,"dir":"dis","v":2.8,"q":-0.4},{"cycle":10,"dir":"dis","v":2.9,"q":-0.7},{"cycle":10,"dir":"dis","v":3.0,"q":-1.0},{"cycle":10,"dir":"dis","v":3.1,"q":-1.6},{"cycle":10,"dir":"dis","v":3.2,"q":-2.3},{"cycle":10,"dir":"dis","v":3.3,"q":-3.2},{"cycle":10,"dir":"dis","v":3.4,"q":-4.0},{"cycle":10,"dir":"dis","v":3.45,"q":-4.5},{"cycle":10,"dir":"dis","v":3.48,"q":-5.0},{"cycle":10,"dir":"dis","v":3.5,"q":-6.5},{"cycle":10,"dir":"dis","v":3.515,"q":-7.1},{"cycle":10,"dir":"dis","v":3.53,"q":-6.5},{"cycle":10,"dir":"dis","v":3.55,"q":-5.0},{"cycle":10,"dir":"dis","v":3.58,"q":-4.8},{"cycle":10,"dir":"dis","v":3.62,"q":-5.5},{"cycle":10,"dir":"dis","v":3.65,"q":-5.9},{"cycle":10,"dir":"dis","v":3.7,"q":-5.3},{"cycle":10,"dir":"dis","v":3.75,"q":-4.6},{"cycle":10,"dir":"dis","v":3.8,"q":-4.3},{"cycle":10,"dir":"dis","v":3.85,"q":-4.0},{"cycle":10,"dir":"dis","v":3.9,"q":-3.7},{"cycle":10,"dir":"dis","v":4.0,"q":-3.5},{"cycle":10,"dir":"dis","v":4.1,"q":-3.3},{"cycle":10,"dir":"dis","v":4.2,"q":-2.3},
{"cycle":50,"dir":"dis","v":2.8,"q":-0.4},{"cycle":50,"dir":"dis","v":2.9,"q":-0.7},{"cycle":50,"dir":"dis","v":3.0,"q":-1.0},{"cycle":50,"dir":"dis","v":3.1,"q":-1.6},{"cycle":50,"dir":"dis","v":3.2,"q":-2.6},{"cycle":50,"dir":"dis","v":3.3,"q":-3.1},{"cycle":50,"dir":"dis","v":3.4,"q":-3.7},{"cycle":50,"dir":"dis","v":3.45,"q":-4.2},{"cycle":50,"dir":"dis","v":3.48,"q":-5.0},{"cycle":50,"dir":"dis","v":3.5,"q":-6.3},{"cycle":50,"dir":"dis","v":3.52,"q":-7.1},{"cycle":50,"dir":"dis","v":3.535,"q":-6.5},{"cycle":50,"dir":"dis","v":3.55,"q":-5.0},{"cycle":50,"dir":"dis","v":3.58,"q":-4.3},{"cycle":50,"dir":"dis","v":3.6,"q":-4.7},{"cycle":50,"dir":"dis","v":3.63,"q":-5.4},{"cycle":50,"dir":"dis","v":3.65,"q":-5.6},{"cycle":50,"dir":"dis","v":3.7,"q":-5.0},{"cycle":50,"dir":"dis","v":3.75,"q":-4.5},{"cycle":50,"dir":"dis","v":3.8,"q":-4.0},{"cycle":50,"dir":"dis","v":3.83,"q":-3.6},{"cycle":50,"dir":"dis","v":3.85,"q":-3.6},{"cycle":50,"dir":"dis","v":3.9,"q":-3.8},{"cycle":50,"dir":"dis","v":4.0,"q":-3.4},{"cycle":50,"dir":"dis","v":4.1,"q":-3.2},{"cycle":50,"dir":"dis","v":4.2,"q":-2.3},
{"cycle":100,"dir":"dis","v":2.8,"q":-0.4},{"cycle":100,"dir":"dis","v":2.9,"q":-0.7},{"cycle":100,"dir":"dis","v":3.0,"q":-1.1},{"cycle":100,"dir":"dis","v":3.1,"q":-1.5},{"cycle":100,"dir":"dis","v":3.2,"q":-2.5},{"cycle":100,"dir":"dis","v":3.25,"q":-3.0},{"cycle":100,"dir":"dis","v":3.3,"q":-3.1},{"cycle":100,"dir":"dis","v":3.4,"q":-3.2},{"cycle":100,"dir":"dis","v":3.45,"q":-3.6},{"cycle":100,"dir":"dis","v":3.48,"q":-4.2},{"cycle":100,"dir":"dis","v":3.5,"q":-4.2},{"cycle":100,"dir":"dis","v":3.52,"q":-5.2},{"cycle":100,"dir":"dis","v":3.535,"q":-6.2},{"cycle":100,"dir":"dis","v":3.55,"q":-5.5},{"cycle":100,"dir":"dis","v":3.57,"q":-3.8},{"cycle":100,"dir":"dis","v":3.6,"q":-3.0},{"cycle":100,"dir":"dis","v":3.63,"q":-3.3},{"cycle":100,"dir":"dis","v":3.67,"q":-3.8},{"cycle":100,"dir":"dis","v":3.7,"q":-4.3},{"cycle":100,"dir":"dis","v":3.73,"q":-4.5},{"cycle":100,"dir":"dis","v":3.78,"q":-4.4},{"cycle":100,"dir":"dis","v":3.83,"q":-4.0},{"cycle":100,"dir":"dis","v":3.87,"q":-3.5},{"cycle":100,"dir":"dis","v":3.9,"q":-3.2},{"cycle":100,"dir":"dis","v":3.93,"q":-3.0},{"cycle":100,"dir":"dis","v":3.96,"q":-3.3},{"cycle":100,"dir":"dis","v":4.0,"q":-3.5},{"cycle":100,"dir":"dis","v":4.1,"q":-3.5},{"cycle":100,"dir":"dis","v":4.15,"q":-3.4},{"cycle":100,"dir":"dis","v":4.2,"q":-3.0},
{"cycle":200,"dir":"dis","v":2.8,"q":-0.4},{"cycle":200,"dir":"dis","v":2.9,"q":-0.7},{"cycle":200,"dir":"dis","v":3.0,"q":-1.0},{"cycle":200,"dir":"dis","v":3.1,"q":-1.5},{"cycle":200,"dir":"dis","v":3.2,"q":-2.2},{"cycle":200,"dir":"dis","v":3.3,"q":-2.9},{"cycle":200,"dir":"dis","v":3.4,"q":-2.9},{"cycle":200,"dir":"dis","v":3.45,"q":-2.7},{"cycle":200,"dir":"dis","v":3.5,"q":-3.0},{"cycle":200,"dir":"dis","v":3.56,"q":-3.1},{"cycle":200,"dir":"dis","v":3.6,"q":-3.6},{"cycle":200,"dir":"dis","v":3.64,"q":-3.1},{"cycle":200,"dir":"dis","v":3.68,"q":-2.6},{"cycle":200,"dir":"dis","v":3.72,"q":-2.6},{"cycle":200,"dir":"dis","v":3.76,"q":-3.0},{"cycle":200,"dir":"dis","v":3.8,"q":-3.6},{"cycle":200,"dir":"dis","v":3.85,"q":-3.7},{"cycle":200,"dir":"dis","v":3.9,"q":-3.8},{"cycle":200,"dir":"dis","v":3.95,"q":-3.7},{"cycle":200,"dir":"dis","v":4.0,"q":-3.5},{"cycle":200,"dir":"dis","v":4.05,"q":-3.2},{"cycle":200,"dir":"dis","v":4.1,"q":-2.9},{"cycle":200,"dir":"dis","v":4.15,"q":-2.8},{"cycle":200,"dir":"dis","v":4.2,"q":-2.5}
],
"pd":[
{"cycle":2,"dir":"ch","v":2.93,"q":0.1},{"cycle":2,"dir":"ch","v":3.0,"q":0.2},{"cycle":2,"dir":"ch","v":3.1,"q":0.4},{"cycle":2,"dir":"ch","v":3.2,"q":0.6},{"cycle":2,"dir":"ch","v":3.3,"q":0.9},{"cycle":2,"dir":"ch","v":3.35,"q":1.2},{"cycle":2,"dir":"ch","v":3.4,"q":1.8},{"cycle":2,"dir":"ch","v":3.43,"q":3.0},{"cycle":2,"dir":"ch","v":3.45,"q":4.5},{"cycle":2,"dir":"ch","v":3.465,"q":6.5},{"cycle":2,"dir":"ch","v":3.48,"q":7.6},{"cycle":2,"dir":"ch","v":3.5,"q":6.5},{"cycle":2,"dir":"ch","v":3.515,"q":5.0},{"cycle":2,"dir":"ch","v":3.53,"q":5.5},{"cycle":2,"dir":"ch","v":3.56,"q":5.8},{"cycle":2,"dir":"ch","v":3.6,"q":6.5},{"cycle":2,"dir":"ch","v":3.62,"q":8.0},{"cycle":2,"dir":"ch","v":3.65,"q":11.0},{"cycle":2,"dir":"ch","v":3.67,"q":10.0},{"cycle":2,"dir":"ch","v":3.69,"q":7.5},{"cycle":2,"dir":"ch","v":3.71,"q":5.5},{"cycle":2,"dir":"ch","v":3.74,"q":4.0},{"cycle":2,"dir":"ch","v":3.77,"q":3.5},{"cycle":2,"dir":"ch","v":3.8,"q":3.8},{"cycle":2,"dir":"ch","v":3.85,"q":4.2},{"cycle":2,"dir":"ch","v":3.9,"q":4.5},{"cycle":2,"dir":"ch","v":3.93,"q":4.4},{"cycle":2,"dir":"ch","v":4.0,"q":4.1},{"cycle":2,"dir":"ch","v":4.1,"q":3.6},{"cycle":2,"dir":"ch","v":4.2,"q":3.3},
{"cycle":10,"dir":"ch","v":2.98,"q":0.1},{"cycle":10,"dir":"ch","v":3.1,"q":0.3},{"cycle":10,"dir":"ch","v":3.2,"q":0.5},{"cycle":10,"dir":"ch","v":3.3,"q":0.7},{"cycle":10,"dir":"ch","v":3.35,"q":0.9},{"cycle":10,"dir":"ch","v":3.4,"q":1.3},{"cycle":10,"dir":"ch","v":3.45,"q":3.0},{"cycle":10,"dir":"ch","v":3.5,"q":4.8},{"cycle":10,"dir":"ch","v":3.53,"q":6.0},{"cycle":10,"dir":"ch","v":3.545,"q":6.6},{"cycle":10,"dir":"ch","v":3.56,"q":6.0},{"cycle":10,"dir":"ch","v":3.58,"q":5.7},{"cycle":10,"dir":"ch","v":3.6,"q":5.5},{"cycle":10,"dir":"ch","v":3.64,"q":5.3},{"cycle":10,"dir":"ch","v":3.67,"q":5.5},{"cycle":10,"dir":"ch","v":3.7,"q":6.1},{"cycle":10,"dir":"ch","v":3.73,"q":5.5},{"cycle":10,"dir":"ch","v":3.77,"q":4.5},{"cycle":10,"dir":"ch","v":3.8,"q":4.0},{"cycle":10,"dir":"ch","v":3.85,"q":3.6},{"cycle":10,"dir":"ch","v":3.9,"q":3.5},{"cycle":10,"dir":"ch","v":4.0,"q":3.5},{"cycle":10,"dir":"ch","v":4.1,"q":3.5},{"cycle":10,"dir":"ch","v":4.2,"q":3.4},
{"cycle":50,"dir":"ch","v":3.05,"q":0.1},{"cycle":50,"dir":"ch","v":3.1,"q":0.2},{"cycle":50,"dir":"ch","v":3.2,"q":0.4},{"cycle":50,"dir":"ch","v":3.3,"q":0.6},{"cycle":50,"dir":"ch","v":3.4,"q":0.9},{"cycle":50,"dir":"ch","v":3.45,"q":1.8},{"cycle":50,"dir":"ch","v":3.5,"q":2.8},{"cycle":50,"dir":"ch","v":3.55,"q":3.7},{"cycle":50,"dir":"ch","v":3.58,"q":4.5},{"cycle":50,"dir":"ch","v":3.6,"q":5.1},{"cycle":50,"dir":"ch","v":3.62,"q":4.2},{"cycle":50,"dir":"ch","v":3.65,"q":3.3},{"cycle":50,"dir":"ch","v":3.7,"q":3.0},{"cycle":50,"dir":"ch","v":3.75,"q":3.0},{"cycle":50,"dir":"ch","v":3.8,"q":3.3},{"cycle":50,"dir":"ch","v":3.85,"q":3.9},{"cycle":50,"dir":"ch","v":3.9,"q":4.0},{"cycle":50,"dir":"ch","v":3.95,"q":3.8},{"cycle":50,"dir":"ch","v":4.0,"q":3.5},{"cycle":50,"dir":"ch","v":4.1,"q":3.2},{"cycle":50,"dir":"ch","v":4.2,"q":3.3},
{"cycle":100,"dir":"ch","v":3.05,"q":0.1},{"cycle":100,"dir":"ch","v":3.1,"q":0.2},{"cycle":100,"dir":"ch","v":3.2,"q":0.4},{"cycle":100,"dir":"ch","v":3.3,"q":0.5},{"cycle":100,"dir":"ch","v":3.4,"q":0.8},{"cycle":100,"dir":"ch","v":3.45,"q":1.5},{"cycle":100,"dir":"ch","v":3.5,"q":2.2},{"cycle":100,"dir":"ch","v":3.55,"q":2.7},{"cycle":100,"dir":"ch","v":3.6,"q":3.0},{"cycle":100,"dir":"ch","v":3.65,"q":3.4},{"cycle":100,"dir":"ch","v":3.68,"q":3.4},{"cycle":100,"dir":"ch","v":3.72,"q":3.0},{"cycle":100,"dir":"ch","v":3.75,"q":2.8},{"cycle":100,"dir":"ch","v":3.8,"q":2.9},{"cycle":100,"dir":"ch","v":3.85,"q":2.9},{"cycle":100,"dir":"ch","v":3.9,"q":3.2},{"cycle":100,"dir":"ch","v":3.95,"q":3.6},{"cycle":100,"dir":"ch","v":4.0,"q":3.7},{"cycle":100,"dir":"ch","v":4.05,"q":3.6},{"cycle":100,"dir":"ch","v":4.1,"q":3.5},{"cycle":100,"dir":"ch","v":4.2,"q":2.8},
{"cycle":200,"dir":"ch","v":3.09,"q":0.1},{"cycle":200,"dir":"ch","v":3.2,"q":0.2},{"cycle":200,"dir":"ch","v":3.3,"q":0.3},{"cycle":200,"dir":"ch","v":3.4,"q":0.5},{"cycle":200,"dir":"ch","v":3.5,"q":0.8},{"cycle":200,"dir":"ch","v":3.55,"q":1.1},{"cycle":200,"dir":"ch","v":3.6,"q":1.5},{"cycle":200,"dir":"ch","v":3.65,"q":1.9},{"cycle":200,"dir":"ch","v":3.7,"q":2.2},{"cycle":200,"dir":"ch","v":3.75,"q":2.6},{"cycle":200,"dir":"ch","v":3.8,"q":3.0},{"cycle":200,"dir":"ch","v":3.85,"q":2.8},{"cycle":200,"dir":"ch","v":3.9,"q":2.5},{"cycle":200,"dir":"ch","v":3.95,"q":2.6},{"cycle":200,"dir":"ch","v":4.0,"q":2.9},{"cycle":200,"dir":"ch","v":4.05,"q":3.2},{"cycle":200,"dir":"ch","v":4.1,"q":3.4},{"cycle":200,"dir":"ch","v":4.15,"q":3.4},{"cycle":200,"dir":"ch","v":4.2,"q":3.0},
{"cycle":2,"dir":"dis","v":2.8,"q":-0.6},{"cycle":2,"dir":"dis","v":2.9,"q":-0.9},{"cycle":2,"dir":"dis","v":3.0,"q":-1.2},{"cycle":2,"dir":"dis","v":3.1,"q":-1.7},{"cycle":2,"dir":"dis","v":3.2,"q":-2.4},{"cycle":2,"dir":"dis","v":3.3,"q":-3.0},{"cycle":2,"dir":"dis","v":3.4,"q":-3.4},{"cycle":2,"dir":"dis","v":3.45,"q":-4.0},{"cycle":2,"dir":"dis","v":3.48,"q":-4.3},{"cycle":2,"dir":"dis","v":3.51,"q":-3.8},{"cycle":2,"dir":"dis","v":3.53,"q":-5.5},{"cycle":2,"dir":"dis","v":3.545,"q":-7.1},{"cycle":2,"dir":"dis","v":3.56,"q":-5.5},{"cycle":2,"dir":"dis","v":3.58,"q":-3.5},{"cycle":2,"dir":"dis","v":3.6,"q":-3.2},{"cycle":2,"dir":"dis","v":3.63,"q":-3.8},{"cycle":2,"dir":"dis","v":3.67,"q":-4.8},{"cycle":2,"dir":"dis","v":3.7,"q":-4.9},{"cycle":2,"dir":"dis","v":3.75,"q":-4.5},{"cycle":2,"dir":"dis","v":3.8,"q":-4.2},{"cycle":2,"dir":"dis","v":3.85,"q":-4.0},{"cycle":2,"dir":"dis","v":3.9,"q":-3.5},{"cycle":2,"dir":"dis","v":4.0,"q":-3.3},{"cycle":2,"dir":"dis","v":4.1,"q":-3.5},{"cycle":2,"dir":"dis","v":4.15,"q":-3.4},{"cycle":2,"dir":"dis","v":4.2,"q":-2.9},
{"cycle":10,"dir":"dis","v":2.8,"q":-0.5},{"cycle":10,"dir":"dis","v":2.9,"q":-0.8},{"cycle":10,"dir":"dis","v":3.0,"q":-1.1},{"cycle":10,"dir":"dis","v":3.1,"q":-1.6},{"cycle":10,"dir":"dis","v":3.2,"q":-2.2},{"cycle":10,"dir":"dis","v":3.3,"q":-2.7},{"cycle":10,"dir":"dis","v":3.4,"q":-3.1},{"cycle":10,"dir":"dis","v":3.45,"q":-3.4},{"cycle":10,"dir":"dis","v":3.5,"q":-3.6},{"cycle":10,"dir":"dis","v":3.55,"q":-4.1},{"cycle":10,"dir":"dis","v":3.6,"q":-3.7},{"cycle":10,"dir":"dis","v":3.64,"q":-2.8},{"cycle":10,"dir":"dis","v":3.7,"q":-3.0},{"cycle":10,"dir":"dis","v":3.75,"q":-3.6},{"cycle":10,"dir":"dis","v":3.8,"q":-4.0},{"cycle":10,"dir":"dis","v":3.83,"q":-4.1},{"cycle":10,"dir":"dis","v":3.9,"q":-3.7},{"cycle":10,"dir":"dis","v":3.95,"q":-3.4},{"cycle":10,"dir":"dis","v":4.0,"q":-3.3},{"cycle":10,"dir":"dis","v":4.1,"q":-3.3},{"cycle":10,"dir":"dis","v":4.2,"q":-2.6},
{"cycle":50,"dir":"dis","v":2.8,"q":-0.4},{"cycle":50,"dir":"dis","v":2.9,"q":-0.6},{"cycle":50,"dir":"dis","v":3.0,"q":-0.9},{"cycle":50,"dir":"dis","v":3.1,"q":-1.3},{"cycle":50,"dir":"dis","v":3.2,"q":-1.7},{"cycle":50,"dir":"dis","v":3.3,"q":-2.2},{"cycle":50,"dir":"dis","v":3.4,"q":-2.4},{"cycle":50,"dir":"dis","v":3.5,"q":-2.4},{"cycle":50,"dir":"dis","v":3.6,"q":-2.5},{"cycle":50,"dir":"dis","v":3.7,"q":-2.5},{"cycle":50,"dir":"dis","v":3.75,"q":-2.8},{"cycle":50,"dir":"dis","v":3.78,"q":-3.1},{"cycle":50,"dir":"dis","v":3.82,"q":-2.7},{"cycle":50,"dir":"dis","v":3.85,"q":-3.0},{"cycle":50,"dir":"dis","v":3.9,"q":-3.3},{"cycle":50,"dir":"dis","v":4.0,"q":-3.4},{"cycle":50,"dir":"dis","v":4.1,"q":-3.1},{"cycle":50,"dir":"dis","v":4.15,"q":-2.4},{"cycle":50,"dir":"dis","v":4.2,"q":-2.2},
{"cycle":100,"dir":"dis","v":2.8,"q":-0.4},{"cycle":100,"dir":"dis","v":2.9,"q":-0.55},{"cycle":100,"dir":"dis","v":3.0,"q":-0.7},{"cycle":100,"dir":"dis","v":3.1,"q":-0.95},{"cycle":100,"dir":"dis","v":3.2,"q":-1.2},{"cycle":100,"dir":"dis","v":3.3,"q":-1.6},{"cycle":100,"dir":"dis","v":3.4,"q":-1.8},{"cycle":100,"dir":"dis","v":3.5,"q":-1.8},{"cycle":100,"dir":"dis","v":3.6,"q":-1.8},{"cycle":100,"dir":"dis","v":3.65,"q":-2.1},{"cycle":100,"dir":"dis","v":3.7,"q":-2.0},{"cycle":100,"dir":"dis","v":3.75,"q":-2.4},{"cycle":100,"dir":"dis","v":3.78,"q":-3.0},{"cycle":100,"dir":"dis","v":3.82,"q":-2.4},{"cycle":100,"dir":"dis","v":3.86,"q":-2.2},{"cycle":100,"dir":"dis","v":3.9,"q":-2.6},{"cycle":100,"dir":"dis","v":3.95,"q":-3.0},{"cycle":100,"dir":"dis","v":4.0,"q":-3.2},{"cycle":100,"dir":"dis","v":4.05,"q":-3.4},{"cycle":100,"dir":"dis","v":4.1,"q":-3.4},{"cycle":100,"dir":"dis","v":4.15,"q":-3.0},{"cycle":100,"dir":"dis","v":4.2,"q":-2.2},
{"cycle":200,"dir":"dis","v":2.8,"q":-0.3},{"cycle":200,"dir":"dis","v":2.9,"q":-0.45},{"cycle":200,"dir":"dis","v":3.0,"q":-0.6},{"cycle":200,"dir":"dis","v":3.1,"q":-0.75},{"cycle":200,"dir":"dis","v":3.2,"q":-0.9},{"cycle":200,"dir":"dis","v":3.3,"q":-1.2},{"cycle":200,"dir":"dis","v":3.4,"q":-1.4},{"cycle":200,"dir":"dis","v":3.5,"q":-1.5},{"cycle":200,"dir":"dis","v":3.6,"q":-1.5},{"cycle":200,"dir":"dis","v":3.7,"q":-1.5},{"cycle":200,"dir":"dis","v":3.76,"q":-1.3},{"cycle":200,"dir":"dis","v":3.79,"q":-1.4},{"cycle":200,"dir":"dis","v":3.82,"q":-2.0},{"cycle":200,"dir":"dis","v":3.85,"q":-2.4},{"cycle":200,"dir":"dis","v":3.9,"q":-2.2},{"cycle":200,"dir":"dis","v":3.93,"q":-1.9},{"cycle":200,"dir":"dis","v":3.97,"q":-2.1},{"cycle":200,"dir":"dis","v":4.0,"q":-2.4},{"cycle":200,"dir":"dis","v":4.05,"q":-2.7},{"cycle":200,"dir":"dis","v":4.1,"q":-3.1},{"cycle":200,"dir":"dis","v":4.15,"q":-2.8},{"cycle":200,"dir":"dis","v":4.2,"q":-2.4}
],
"na":[{"t":"Charge","v":3.687,"q":12.5},{"t":"Discharge","v":3.776,"q":-8.2}],
"ra":[{"v":3.84,"q":10.6,"v0":3.567,"q0":10.6,"head":"r"},{"v":3.653,"q":-6.1,"v0":3.9,"q0":-6.1,"head":"l"}],
"nb":[{"t":"Charge","v":3.63,"q":13.1},{"t":"Discharge","v":3.733,"q":-7.65}],
"rb":[{"v":3.78,"q":11.4,"v0":3.53,"q0":11.4,"head":"r"},{"v":3.61,"q":-5.76,"v0":3.84,"q0":-5.76,"head":"l"}],
"nc":[{"t":"Charge","v":3.88,"q":13.3},{"t":"Discharge","v":3.927,"q":-7.3},{"t":"peak shift","v":3.383,"q":12.6},{"t":"No peak shift","v":3.033,"q":-5.05},{"t":"until 50th cycle","v":3.069,"q":-7.73}],
"rc":[{"v":4.012,"q":11.5,"v0":3.767,"q0":11.5,"head":"r"},{"v":3.796,"q":-5.7,"v0":4.019,"q0":-5.7,"head":"l"},{"v":3.403,"q":9.6,"v0":3.331,"q0":11.35,"head":"dr"},{"v":3.403,"q":-5.66,"v0":3.298,"q0":-6.04,"head":"ur"}],
"nd":[{"t":"Charge","v":3.718,"q":13.2},{"t":"peak shift","v":3.899,"q":8.35},{"t":"peak shift","v":3.134,"q":-5.4},{"t":"Discharge","v":3.791,"q":-7.8}],
"rd":[{"v":3.848,"q":11.8,"v0":3.609,"q0":11.8,"head":"r"},{"v":3.647,"q":-6.4,"v0":3.873,"q0":-6.4,"head":"l"},{"v":3.831,"q":5.76,"v0":3.914,"q0":6.45,"head":"ul"},{"v":3.434,"q":-5.15,"v0":3.327,"q0":-5.53,"head":"ur"}]
},
"spacing":308,
"bounds":"flush",
"resolve":{"scale":{"color":"independent"},"legend":{"color":"independent"}},
"vconcat":[
{"hconcat":[
 {"width":349,"height":228,
  "encoding":{
   "x":{"field":"v","type":"quantitative","scale":{"domain":[2.8,4.2],"nice":false,"zero":false},"axis":{"values":[2.8,3,3.2,3.4,3.6,3.8,4,4.2],"labelExpr":"''+datum.value","title":"Voltage (V)","labelFontSize":18,"titleFontSize":28,"labelPadding":9}},
   "y":{"field":"q","type":"quantitative","scale":{"domain":[-10,15],"nice":false,"zero":false},"axis":{"values":[-10,-5,0,5,10,15],"labelExpr":"''+datum.value","title":"dQ/dV (mAh/V)","labelFontSize":18,"titleFontSize":28}}},
  "layer":[
   {"data":{"name":"pa"},"mark":{"type":"line","strokeWidth":2.8,"interpolate":"monotone","clip":true},
    "encoding":{"color":{"field":"cycle","type":"nominal","scale":{"domain":[2,10,50,100,200],"range":["#ff0d0d","#74ab2e","#4cbdee","#1c6ae6","#c51ff0"]},"legend":{"title":null,"labelExpr":"'Cycle '+datum.label"}},"detail":{"field":"dir"}}},
   {"data":{"name":"na"},"mark":{"type":"text","fontSize":19},"encoding":{"text":{"field":"t"}}},
   {"data":{"name":"ra"},"mark":{"type":"rule","color":"#111","strokeWidth":1.2},"encoding":{"x2":{"field":"v0"},"y2":{"field":"q0"}}},
   {"data":{"name":"ra"},"mark":{"type":"point","filled":true,"color":"#111","opacity":1,"size":170},"encoding":{"shape":{"field":"head","type":"nominal","scale":{"domain":["r","l","dr","ur","ul"],"range":["M0,0L-1,-0.4L-1,0.4Z","M0,0L1,-0.4L1,0.4Z","M0,0L-0.53,-0.94L-1.03,-0.32Z","M0,0L-1.04,-0.28L-0.94,0.52Z","M0,0L1.07,0.13L0.86,-0.65Z"]},"legend":null}}},
   {"data":{"values":[{"t":"Si/Gr (20/68) + MWCNTs","v":3.5,"q":15}]},"mark":{"type":"text","fontSize":17,"baseline":"alphabetic","dy":-9},"encoding":{"text":{"field":"t"}}},
   {"data":{"values":[{"t":"(a)","v":2.8,"q":15}]},"mark":{"type":"text","fontSize":37,"align":"left","baseline":"middle","dx":-84,"dy":-5},"encoding":{"text":{"field":"t"}}}
  ]},
 {"width":380,"height":228,
  "encoding":{
   "x":{"field":"v","type":"quantitative","scale":{"domain":[2.8,4.2],"nice":false,"zero":false},"axis":{"values":[2.8,3,3.2,3.4,3.6,3.8,4,4.2],"labelExpr":"''+datum.value","title":"Voltage (V)"}},
   "y":{"field":"q","type":"quantitative","scale":{"domain":[-10,15],"nice":false,"zero":false},"axis":{"values":[-10,-5,0,5,10,15],"labelExpr":"''+datum.value","title":"dQ/dV (mAh/V)"}}},
  "layer":[
   {"data":{"name":"pb"},"mark":{"type":"line","strokeWidth":2.8,"interpolate":"monotone","clip":true},
    "encoding":{"color":{"field":"cycle","type":"nominal","scale":{"domain":[2,10,50,100,200],"range":["#ff0d0d","#74ab2e","#4cbdee","#0d1ef0","#c51ff0"]},"legend":{"title":null,"labelExpr":"'Cycle '+datum.label"}},"detail":{"field":"dir"}}},
   {"data":{"name":"nb"},"mark":{"type":"text","fontSize":19},"encoding":{"text":{"field":"t"}}},
   {"data":{"name":"rb"},"mark":{"type":"rule","color":"#111","strokeWidth":1.2},"encoding":{"x2":{"field":"v0"},"y2":{"field":"q0"}}},
   {"data":{"name":"rb"},"mark":{"type":"point","filled":true,"color":"#111","opacity":1,"size":170},"encoding":{"shape":{"field":"head","type":"nominal","scale":{"domain":["r","l","dr","ur","ul"],"range":["M0,0L-1,-0.4L-1,0.4Z","M0,0L1,-0.4L1,0.4Z","M0,0L-0.53,-0.94L-1.03,-0.32Z","M0,0L-1.04,-0.28L-0.94,0.52Z","M0,0L1.07,0.13L0.86,-0.65Z"]},"legend":null}}},
   {"data":{"values":[{"t":"Si/Gr (20/68) + Super P","v":3.5,"q":15}]},"mark":{"type":"text","fontSize":17,"baseline":"alphabetic","dy":-10},"encoding":{"text":{"field":"t"}}},
   {"data":{"values":[{"t":"(b)","v":2.8,"q":15}]},"mark":{"type":"text","fontSize":38,"align":"left","baseline":"middle","dx":-79,"dy":-12},"encoding":{"text":{"field":"t"}}}
  ]}
 ],
 "spacing":135,"bounds":"flush",
 "resolve":{"scale":{"color":"independent"},"legend":{"color":"independent"}}},
{"hconcat":[
 {"width":357,"height":217,
  "encoding":{
   "x":{"field":"v","type":"quantitative","scale":{"domain":[2.8,4.2],"nice":false,"zero":false},"axis":{"values":[2.8,3,3.2,3.4,3.6,3.8,4,4.2],"labelExpr":"''+datum.value","title":"Voltage (V)"}},
   "y":{"field":"q","type":"quantitative","scale":{"domain":[-10,15],"nice":false,"zero":false},"axis":{"values":[-10,-5,0,5,10,15],"labelExpr":"''+datum.value","title":"dQ/dV (mAh/V)"}}},
  "layer":[
   {"data":{"name":"pc"},"mark":{"type":"line","strokeWidth":2.8,"interpolate":"monotone","clip":true},
    "encoding":{"color":{"field":"cycle","type":"nominal","scale":{"domain":[2,10,50,100,200],"range":["#ff0d0d","#74ab2e","#4cbdee","#0d1ef0","#c51ff0"]},"legend":{"title":null,"labelExpr":"'Cycle '+datum.label","labelFontSize":18}},"detail":{"field":"dir"}}},
   {"data":{"name":"nc"},"mark":{"type":"text","fontSize":18},"encoding":{"text":{"field":"t"}}},
   {"data":{"name":"rc"},"mark":{"type":"rule","color":"#111","strokeWidth":1.2},"encoding":{"x2":{"field":"v0"},"y2":{"field":"q0"}}},
   {"data":{"name":"rc"},"mark":{"type":"point","filled":true,"color":"#111","opacity":1,"size":170},"encoding":{"shape":{"field":"head","type":"nominal","scale":{"domain":["r","l","dr","ur","ul"],"range":["M0,0L-1,-0.4L-1,0.4Z","M0,0L1,-0.4L1,0.4Z","M0,0L-0.53,-0.94L-1.03,-0.32Z","M0,0L-1.04,-0.28L-0.94,0.52Z","M0,0L1.07,0.13L0.86,-0.65Z"]},"legend":null}}},
   {"data":{"values":[{"t":"Si/Gr (60/28) + MWCNTs","v":3.5,"q":15}]},"mark":{"type":"text","fontSize":17,"baseline":"alphabetic","dy":-10},"encoding":{"text":{"field":"t"}}},
   {"data":{"values":[{"t":"(c)","v":2.8,"q":15}]},"mark":{"type":"text","fontSize":35,"align":"left","baseline":"middle","dx":-70,"dy":2},"encoding":{"text":{"field":"t"}}}
  ]},
 {"width":372,"height":217,
  "encoding":{
   "x":{"field":"v","type":"quantitative","scale":{"domain":[2.8,4.2],"nice":false,"zero":false},"axis":{"values":[2.8,3,3.2,3.4,3.6,3.8,4,4.2],"labelExpr":"''+datum.value","title":"Voltage (V)"}},
   "y":{"field":"q","type":"quantitative","scale":{"domain":[-10,15],"nice":false,"zero":false},"axis":{"values":[-10,-5,0,5,10,15],"labelExpr":"''+datum.value","title":"dQ/dV (mAh/V)"}}},
  "layer":[
   {"data":{"name":"pd"},"mark":{"type":"line","strokeWidth":2.8,"interpolate":"monotone","clip":true},
    "encoding":{"color":{"field":"cycle","type":"nominal","scale":{"domain":[2,10,50,100,200],"range":["#ff0d0d","#74ab2e","#4cbdee","#0d1ef0","#c51ff0"]},"legend":{"title":null,"labelExpr":"'Cycle '+datum.label","labelFontSize":18.5}},"detail":{"field":"dir"}}},
   {"data":{"name":"nd"},"mark":{"type":"text","fontSize":19},"encoding":{"text":{"field":"t"}}},
   {"data":{"name":"rd"},"mark":{"type":"rule","color":"#111","strokeWidth":1.2},"encoding":{"x2":{"field":"v0"},"y2":{"field":"q0"}}},
   {"data":{"name":"rd"},"mark":{"type":"point","filled":true,"color":"#111","opacity":1,"size":170},"encoding":{"shape":{"field":"head","type":"nominal","scale":{"domain":["r","l","dr","ur","ul"],"range":["M0,0L-1,-0.4L-1,0.4Z","M0,0L1,-0.4L1,0.4Z","M0,0L-0.53,-0.94L-1.03,-0.32Z","M0,0L-1.04,-0.28L-0.94,0.52Z","M0,0L1.07,0.13L0.86,-0.65Z"]},"legend":null}}},
   {"data":{"values":[{"t":"Si/Gr (60/28) + Super P","v":3.5,"q":15}]},"mark":{"type":"text","fontSize":17,"baseline":"alphabetic","dy":-9},"encoding":{"text":{"field":"t"}}},
   {"data":{"values":[{"t":"(d)","v":2.8,"q":15}]},"mark":{"type":"text","fontSize":37,"align":"left","baseline":"middle","dx":-72,"dy":-3},"encoding":{"text":{"field":"t"}}}
  ]}
 ],
 "spacing":129,"bounds":"flush",
 "resolve":{"scale":{"color":"independent"},"legend":{"color":"independent"}}}
]
}
